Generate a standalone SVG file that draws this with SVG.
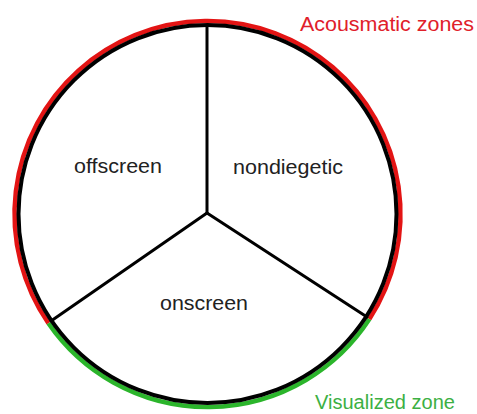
<svg xmlns="http://www.w3.org/2000/svg" width="477" height="414" viewBox="0 0 477 414">
  <style>
    .lbl { font-family: "Liberation Sans", Arial, sans-serif; font-size: 20px; fill: #222; }
    .zone { font-family: "Liberation Sans", Arial, sans-serif; font-size: 20px; }
    .spoke { stroke: #000; stroke-width: 3; fill: none; stroke-linecap: round; }
  </style>
  <rect width="477" height="414" fill="#fff"/>
  <g id="zones">
    <path d="M 369.4 319.1 A 193 193 0 1 0 48.4 323.3" fill="none" stroke="#e31414" stroke-width="4.5"/>
    <path d="M 48.4 323.3 A 193 193 0 0 0 369.4 319.1" fill="none" stroke="#2bb52b" stroke-width="4.5"/>
  </g>
  <g id="circle">
    <circle cx="207.5" cy="214" r="189" fill="none" stroke="#000" stroke-width="4"/>
  </g>
  <g id="connectors">
    <line class="spoke" x1="207" y1="213" x2="207" y2="26"/>
    <line class="spoke" x1="207" y1="213" x2="51" y2="321"/>
    <line class="spoke" x1="207" y1="213" x2="367" y2="317"/>
  </g>
  <g id="offscreen">
    <text class="lbl" x="74" y="173" textLength="88" lengthAdjust="spacingAndGlyphs">offscreen</text>
  </g>
  <g id="nondiegetic">
    <text class="lbl" x="233" y="174" textLength="110" lengthAdjust="spacingAndGlyphs">nondiegetic</text>
  </g>
  <g id="onscreen">
    <text class="lbl" x="160" y="310" textLength="88" lengthAdjust="spacingAndGlyphs">onscreen</text>
  </g>
  <g id="acousmatic-label">
    <text class="zone" x="300" y="30.5" fill="#e0202a" textLength="174" lengthAdjust="spacingAndGlyphs">Acousmatic zones</text>
  </g>
  <g id="visualized-label">
    <text class="zone" x="315" y="409" fill="#3cb043" textLength="140" lengthAdjust="spacingAndGlyphs">Visualized zone</text>
  </g>
</svg>
